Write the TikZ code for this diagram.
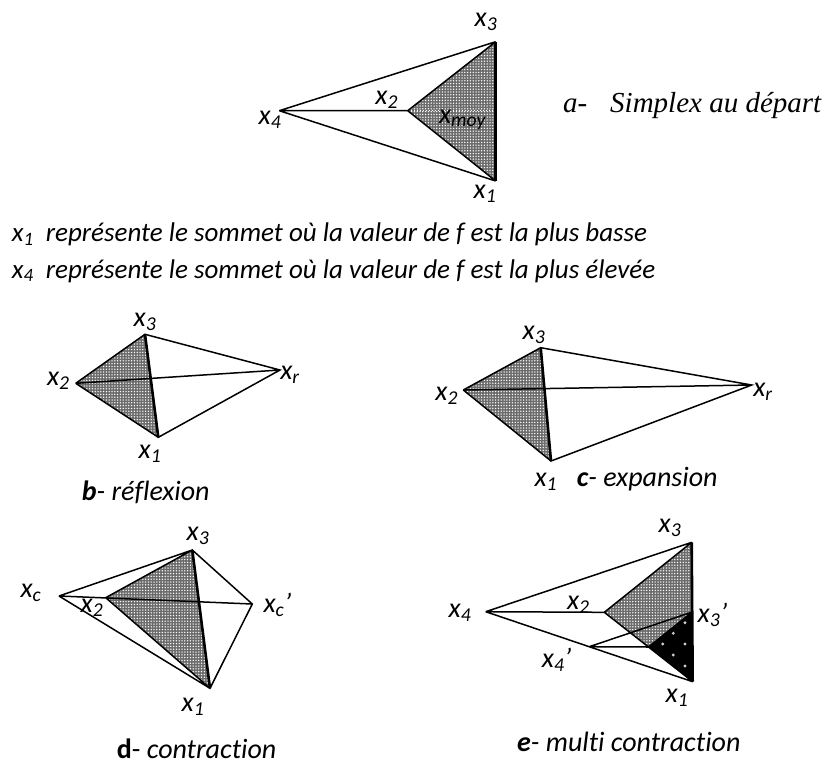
\documentclass[tikz,border=0pt]{standalone}
\usepackage{fontspec}
\setmainfont{Carlito}[Ligatures=NoCommon]
\newfontfamily\timesf{Liberation Serif}
\usetikzlibrary{calc,patterns}
\pgfdeclarepatternformonly{wdots}{\pgfqpoint{-1pt}{-1pt}}{\pgfqpoint{1pt}{1pt}}{\pgfqpoint{2.8pt}{2.8pt}}%
  {\pgfpathcircle{\pgfpoint{0pt}{0pt}}{0.75pt}\pgfusepath{fill}}
\tikzset{
  edge/.style={line width=1.5pt, line join=miter},
  thickedge/.style={line width=2.6pt},
  grayfill/.style={fill=black!58, postaction={pattern=wdots, pattern color=white}},
  lbl/.style={font=\itshape\fontsize{28}{32}\selectfont, inner sep=0pt},
  sentence/.style={font=\itshape\fontsize{27}{30}\selectfont, inner sep=0pt, anchor=base west},
  captext/.style={font=\itshape\fontsize{28}{32}\selectfont, inner sep=0pt, anchor=base west},
  wdot/.style={fill=white!80!black, draw=none}
}
\begin{document}
\begin{tikzpicture}[x=1pt,y=-1pt]
\useasboundingbox (0,0) rectangle (827,764);
% ---------- panel a
\coordinate (A3) at (495.7,41.7);
\coordinate (A1) at (495.7,181);
\coordinate (A4) at (279.3,110.7);
\coordinate (A2) at (407.7,110.7);
\coordinate (Am) at (495.7,110.7);
\fill[grayfill] (A2) -- (A3) -- (A1) -- cycle;
\draw[white, line width=1pt, dotted] (A2) -- (Am);
\draw[edge] (A4) -- (A3) (A4) -- (A1) (A4) -- (A2) (A3) -- (A2) -- (A1);
\draw[thickedge] (A3) -- (A1);
\node[lbl] (la3) at (486,21.7) {x\textsubscript{3}};
\node[lbl] (la4) at (270,120) {x\textsubscript{4}};
\node[lbl] (la2) at (386.7,100) {x\textsubscript{2}};
\node[lbl] (lam) at (462.5,120) {x\textsubscript{moy}};
\node[lbl] (la1) at (485,194) {x\textsubscript{1}};
\node[font=\timesf\itshape\fontsize{29}{32}\selectfont, inner sep=0pt, anchor=base west] (capa) at (563,112.7) {a-};
\node[font=\timesf\itshape\fontsize{29}{32}\selectfont, inner sep=0pt, anchor=base west] (capa2) at (610,112.7) {Simplex au départ};
% ---------- sentences
\node[sentence] (s1) at (11.7,241.7) {x\textsubscript{1}\ \ représente le sommet où la valeur de f est la plus basse};
\node[sentence] (s2) at (11.7,278) {x\textsubscript{4}\ \ représente le sommet où la valeur de f est la plus élevée};
% ---------- panel b
\coordinate (B3) at (145,334.3);
\coordinate (B2) at (75.7,383.3);
\coordinate (B1) at (158.3,437.3);
\coordinate (Br) at (280,370);
\fill[grayfill] (B2) -- (B3) -- (B1) -- cycle;
\draw[edge] (B2) -- (B3) -- (Br) -- (B1) -- (B2) (B2) -- (Br);
\draw[thickedge] (B3) -- (B1);
\node[lbl] (lb3) at (145,322) {x\textsubscript{3}};
\node[lbl] (lb2) at (58.3,381) {x\textsubscript{2}};
\node[lbl] (lb1) at (150,454) {x\textsubscript{1}};
\node[lbl] (lbr) at (290,375) {x\textsubscript{r}};
\node[captext] (capb) at (81.7,500) {\textbf{b}- réflexion};
% ---------- panel c
\coordinate (C3) at (540.7,347.7);
\coordinate (C2) at (463.3,390);
\coordinate (C1) at (551,461);
\coordinate (Cr) at (751.7,385);
\fill[grayfill] (C2) -- (C3) -- (C1) -- cycle;
\draw[edge] (C2) -- (C3) -- (Cr) -- (C1) -- (C2) (C2) -- (Cr);
\draw[thickedge] (C3) -- (C1);
\node[lbl] (lc3) at (534,335) {x\textsubscript{3}};
\node[lbl] (lc2) at (446.7,395.8) {x\textsubscript{2}};
\node[lbl] (lc1) at (545.8,481.7) {x\textsubscript{1}};
\node[lbl] (lcr) at (763,391.7) {x\textsubscript{r}};
\node[captext] (capc) at (576.7,486.7) {\textbf{c}- expansion};
% ---------- panel d
\coordinate (D3) at (192.3,550);
\coordinate (Dc) at (59,596);
\coordinate (D2) at (105.7,597.7);
\coordinate (Dcp) at (252.3,604);
\coordinate (D1) at (210,688.3);
\fill[grayfill] (D2) -- (D3) -- (D1) -- cycle;
\draw[edge] (Dc) -- (D3) -- (Dcp) -- (D1) -- (Dc) (Dc) -- (Dcp) (D3) -- (D2) -- (D1);
\draw[thickedge] (D3) -- (D1);
\node[lbl] (ld3) at (198,535.8) {x\textsubscript{3}};
\node[lbl] (ldc) at (31,593) {x\textsubscript{c}};
\node[lbl] (ld2) at (92,607.5) {x\textsubscript{2}};
\node[lbl] (ldcp) at (277.5,605) {x\textsubscript{c}’};
\node[lbl] (ld1) at (193,707) {x\textsubscript{1}};
\node[font=\fontsize{28}{32}\selectfont, inner sep=0pt, anchor=base west] (capd) at (116.7,758) {\textbf{d}- \textit{contraction}};
% ---------- panel e
\coordinate (E3) at (691.7,542.3);
\coordinate (E1) at (692.7,681.7);
\coordinate (E4) at (485.7,611.7);
\coordinate (E2) at (604.3,612.3);
\coordinate (E3p) at ($(E3)!.5!(E1)$);
\coordinate (E2p) at ($(E2)!.5!(E1)$);
\coordinate (E4p) at ($(E4)!.5!(E1)$);
\fill[grayfill] (E2) -- (E3) -- (E1) -- cycle;
\fill[black] (E2p) -- (E3p) -- (E1) -- cycle;
\foreach \p in {(685,622.7),(673.3,633.3),(662.7,644),(685,644),(673.3,655),(685,666)}
  \fill[wdot] \p circle (1.6);
\draw[edge] (E4) -- (E3) (E4) -- (E1) (E4) -- (E2) (E3) -- (E2) -- (E1)
            (E4p) -- (E3p) (E4p) -- (E2p) (E2p) -- (E3p);
\draw[thickedge] (E3) -- (E1);
\node[lbl] (le3) at (670,527.5) {x\textsubscript{3}};
\node[lbl] (le4) at (460,612.5) {x\textsubscript{4}};
\node[lbl] (le2) at (578.3,605) {x\textsubscript{2}};
\node[lbl] (le3p) at (712.5,615) {x\textsubscript{3}’};
\node[lbl] (le4p) at (556.7,660) {x\textsubscript{4}’};
\node[lbl] (le1) at (677,698) {x\textsubscript{1}};
\node[captext] (cape) at (517,751.7) {\textbf{e}- multi contraction};
\end{tikzpicture}
\end{document}
